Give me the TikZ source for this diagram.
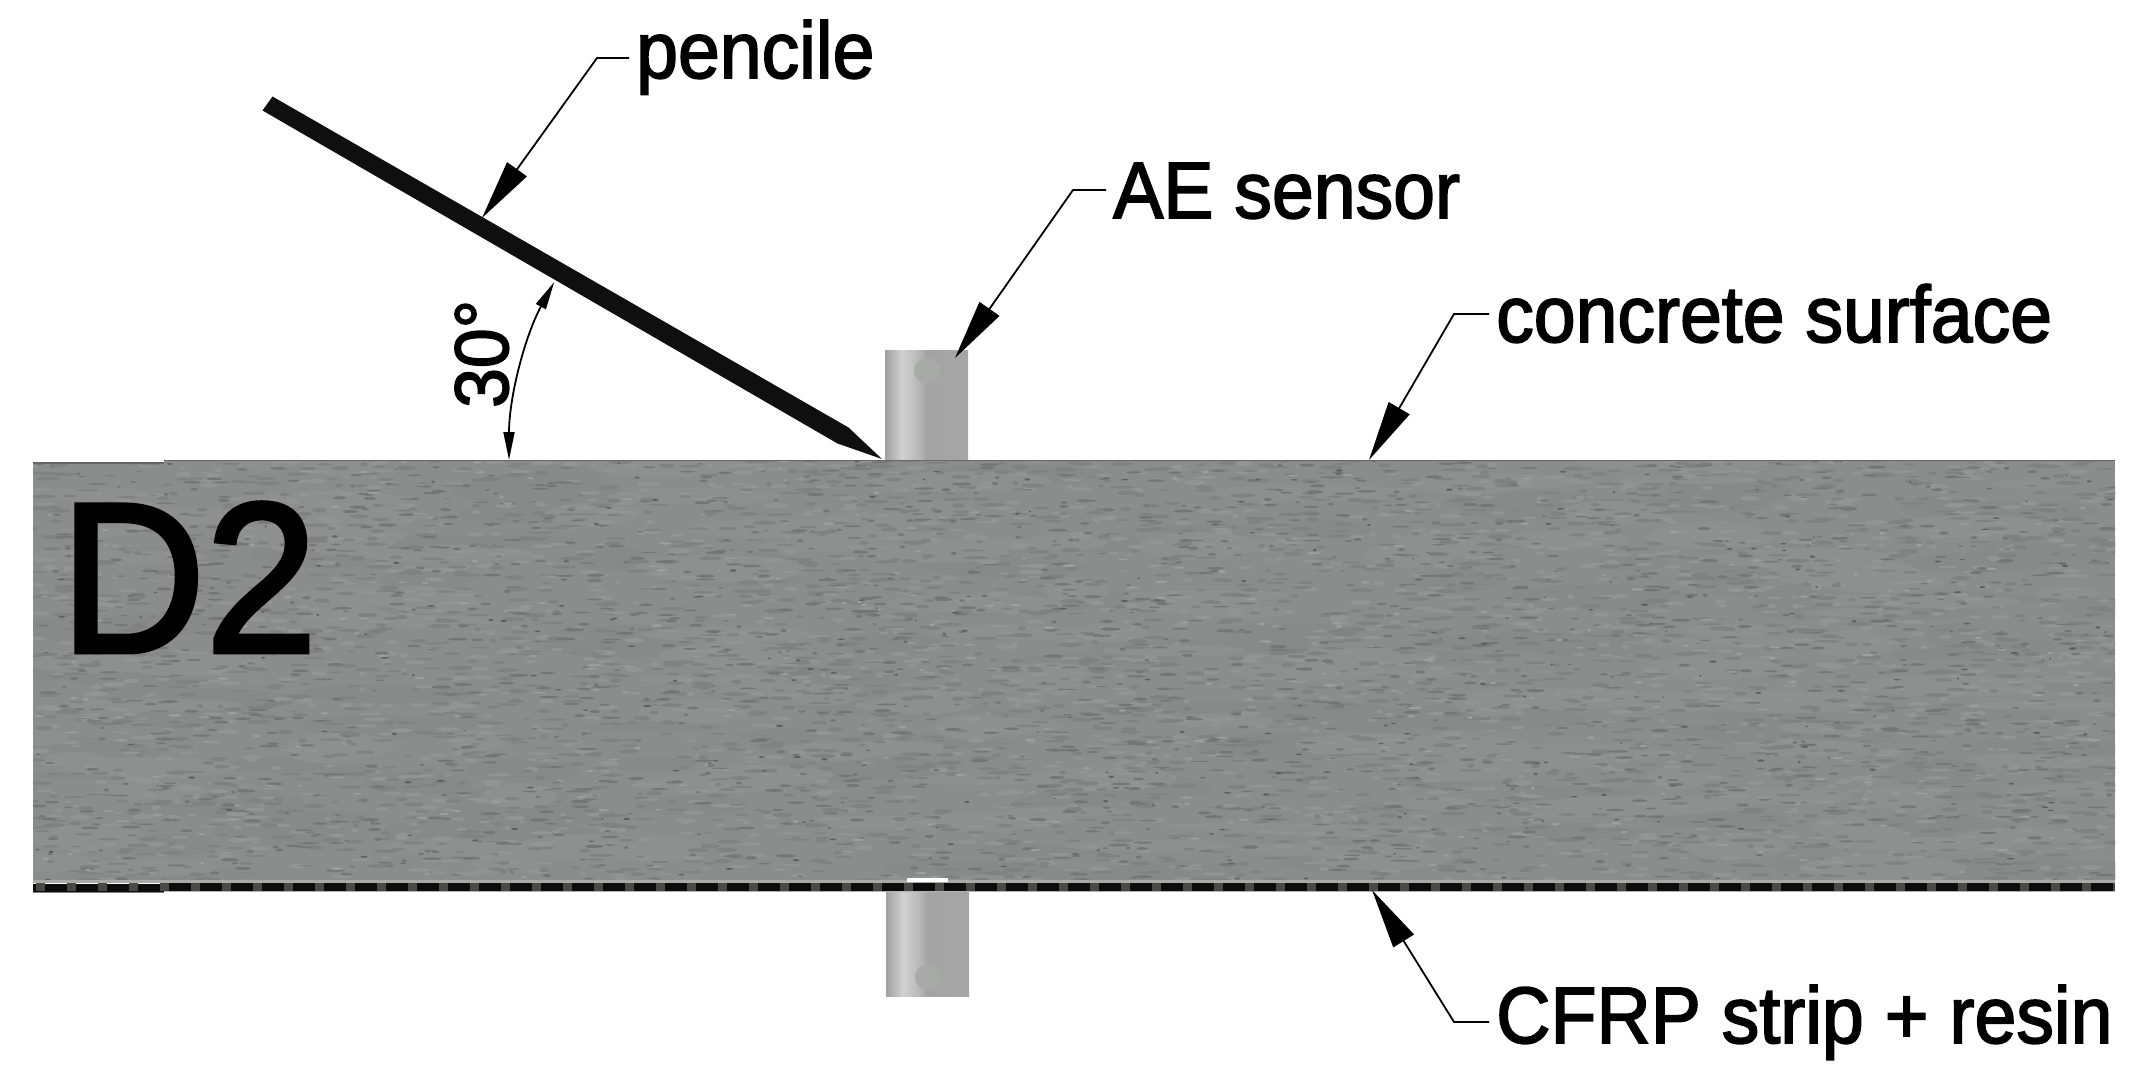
\documentclass[tikz,border=0pt]{standalone}
\usepackage{graphicx}
\usepackage{fontspec}
\setmainfont[FakeBold=2.2]{Liberation Sans}
\usetikzlibrary{arrows.meta,calc}
\definecolor{slabbase}{HTML}{8A8D8C}
\definecolor{speckA}{HTML}{7F8281}
\definecolor{speckB}{HTML}{737675}
\definecolor{speckC}{HTML}{5E6060}
\definecolor{speckD}{HTML}{929594}
\definecolor{speckE}{HTML}{9C9F9E}
\definecolor{cloudA}{HTML}{878A89}
\definecolor{cloudB}{HTML}{8D908F}
\definecolor{edgegrey}{HTML}{A9ABA7}
\definecolor{stripdark}{HTML}{0C0C0C}
\definecolor{striplight}{HTML}{4A4A44}
\definecolor{dotgrey}{HTML}{A8AAA8}
\pgfdeclarehorizontalshading{sensorshade}{100bp}{
  color(0bp)=(black!40);
  color(25bp)=(black!37);
  color(35bp)=(black!18);
  color(45bp)=(black!28);
  color(50bp)=(black!36);
  color(75bp)=(black!35);
  color(86bp)=(black!47);
  color(100bp)=(black!55)}
\newcommand{\tallset}[1]{\scalebox{.94}[1]{#1}}
% #1 colour, #2 number of batches of 50, #3 base x radius, #4 extra x radius, #5 base y radius, #6 extra y radius
\newcommand{\sprinkle}[6]{%
  \foreach \b in {1,...,#2}{%
    \fill[#1] \foreach \i in {1,...,50} { (33+2082*rnd,460+420*rnd) ellipse[x radius={#3+#4*rnd},y radius={#5+#6*rnd}] };
  }}
\tikzset{
  leader/.style={draw=black,line width=1.8pt,line join=miter,-{Triangle[length=60pt,width=24pt]}},
  anglearrow/.style={draw=black,line width=1.8pt,{Triangle[length=28pt,width=11pt]}-{Triangle[length=28pt,width=11pt]}},
  callout/.style={anchor=base west,inner xsep=7pt,inner ysep=0pt,font=\fontsize{80}{96}\selectfont},
  sensorbody/.style={shading=sensorshade,minimum width=83pt,inner sep=0pt,anchor=north west},
  sensordot/.style={circle,fill=dotgrey,minimum size=26pt,inner sep=0pt},
  slabblock/.style={fill=slabbase,minimum height=420pt,minimum width=2082pt,inner sep=0pt,anchor=north west},
}
\begin{document}
\begin{tikzpicture}[x=1pt,y=-1pt]
\pgfmathsetseed{4217}
\useasboundingbox (0,0) rectangle (2147,1083);
\fill[white] (0,0) rectangle (2147,1083);

% sensors, behind the slab
\node[sensorbody,minimum height=112pt] (topsensor) at (885,350) {};
\node[sensorbody,minimum height=106pt] (botsensor) at (886,890) {};
\node[sensordot] (topdot) at (927,371) {};
\node[sensordot] (botdot) at (928,977) {};

% concrete slab
\node[slabblock] (slab) at (33,460) {};
\begin{scope}
  \clip (33,463) -- (164,463) -- (164,460.5) -- (2115,460.5) -- (2115,880) -- (33,880) -- cycle;
  \sprinkle{cloudA}{3}{30}{70}{4}{10}
  \sprinkle{cloudB}{3}{30}{70}{4}{10}
  \sprinkle{speckD}{36}{3}{9}{1}{1.5}
  \sprinkle{speckA}{50}{3}{10}{.8}{1.4}
  \sprinkle{speckB}{30}{2}{8}{.6}{1}
  \sprinkle{speckC}{6}{1}{3}{.5}{.7}
  \sprinkle{speckE}{6}{2}{5}{.6}{.8}
\end{scope}
% top edge
\draw[black!60,line width=1.3pt] (33,463) -- (164,463) (164,460.5) -- (2115,460.5);
% cleared step at the left end
\fill[white] (33,458) rectangle (164,462.4);
% CFRP strip
\fill[stripdark] (33,883.5) rectangle (164,892);
\fill[stripdark] (164,882.5) rectangle (2115,891);
\draw[striplight,line width=8pt,dash pattern=on 9pt off 22pt] (36,887) -- (2115,887);
\fill[edgegrey] (33,879.5) rectangle (2115,882.8);
\draw[black!30,line width=1pt] (164,891.5) -- (2115,891.5);
\draw[black!50,line width=1pt] (33,892.5) -- (164,892.5);
\fill[white] (907,878) rectangle (948,882);

% pencil
\fill[black!94] (272.5,96.5) -- (848.5,427.5) -- (882,459) -- (837.5,443.5) -- (262.5,110.5) -- cycle;

% labels
\node[callout] (pencillabel) at (629,78) {\tallset{pencile}};
\node[callout] (aelabel) at (1106,218) {\tallset{AE sensor}};
\node[callout] (concretelabel) at (1489,342) {\tallset{concrete surface}};
\node[callout] (cfrplabel) at (1489,1043) {\tallset{CFRP strip + resin}};
\node[anchor=base west,inner sep=0pt,font=\fontsize{214}{250}\selectfont] (dlabel) at (60,652) {\tallset{D2}};
\node[anchor=base west,inner sep=0pt,rotate=90,font=\fontsize{76}{90}\selectfont] (anglelabel) at (508,408) {\tallset{30°}};

% leaders
\coordinate (pencilelbow) at (597,58);
\coordinate (pencilpoint) at (482,218);
\coordinate (aeelbow) at (1073,190);
\coordinate (aepoint) at (955,358);
\coordinate (concreteelbow) at (1454,314);
\coordinate (concretepoint) at (1369,460);
\coordinate (cfrpelbow) at (1454,1022);
\coordinate (cfrppoint) at (1372,890);
\draw[leader] (pencillabel.west |- pencilelbow) -- (pencilelbow) -- (pencilpoint);
\draw[leader] (aelabel.west |- aeelbow) -- (aeelbow) -- (aepoint);
\draw[leader] (concretelabel.west |- concreteelbow) -- (concreteelbow) -- (concretepoint);
\draw[leader] (cfrplabel.west |- cfrpelbow) -- (cfrpelbow) -- (cfrppoint);

% angle dimension
\coordinate (anglestart) at (509,460);
\draw[anglearrow] (anglestart) arc[start angle=180,end angle=151.5,radius=373pt];
\end{tikzpicture}
\end{document}
